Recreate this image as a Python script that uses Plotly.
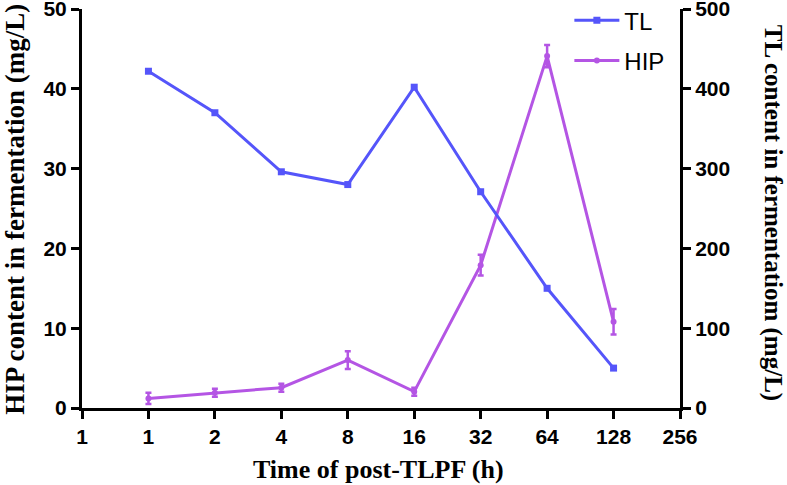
import plotly.graph_objects as go

# ---- data ----
tick_labels = ["1", "1", "2", "4", "8", "16", "32", "64", "128", "256"]
time_points = ["1", "2", "4", "8", "16", "32", "64", "128"]
hip_values = [1.2, 1.9, 2.55, 6.0, 2.05, 17.9, 44.1, 10.8]
hip_errors = [0.7, 0.5, 0.5, 1.1, 0.5, 1.3, 1.4, 1.6]
tl_values = [422, 370, 296, 280, 402, 271, 150, 50]

x_pos = list(range(1, len(time_points) + 1))
tick_pos = list(range(len(tick_labels)))

BLUE = "rgb(85,85,250)"
PURPLE = "rgb(180,85,228)"
SANS = "Liberation Sans, Arial, sans-serif"
SERIF = "Liberation Serif, Times New Roman, serif"

fig = go.Figure()
fig.add_trace(go.Scatter(
    x=x_pos, y=tl_values, name="TL", yaxis="y2", mode="lines+markers",
    line=dict(color=BLUE, width=3),
    marker=dict(symbol="square", size=7, color=BLUE),
    legendgroup="tl",
))
fig.add_trace(go.Scatter(
    x=x_pos, y=hip_values, name="HIP", mode="lines+markers",
    line=dict(color=PURPLE, width=3),
    marker=dict(symbol="circle", size=6, color=PURPLE),
    error_y=dict(type="data", array=hip_errors, color=PURPLE, thickness=2.5, width=3),
    legendgroup="hip",
))

axis_common = dict(
    showline=True, linecolor="black", linewidth=3,
    ticks="outside", ticklen=8, tickwidth=3, tickcolor="black",
    showgrid=False, zeroline=False, automargin=False,
    ticklabeloverflow="allow",
    tickfont=dict(family=SANS, size=21, color="black", weight="bold"),
)

fig.update_layout(
    width=787, height=485,
    margin=dict(l=82, r=107, t=9, b=77, autoexpand=False),
    paper_bgcolor="white", plot_bgcolor="white",
    xaxis=dict(range=[0, 9], tickvals=tick_pos, ticktext=tick_labels, **axis_common),
    yaxis=dict(range=[0, 50], tickvals=[0, 10, 20, 30, 40, 50], **axis_common),
    yaxis2=dict(range=[0, 500], tickvals=[0, 100, 200, 300, 400, 500],
                overlaying="y", side="right", **axis_common),
    legend=dict(x=0.815, y=1.027, xanchor="left", yanchor="top",
                font=dict(family=SANS, size=24, color="black"),
                bgcolor="rgba(0,0,0,0)", tracegroupgap=6, itemwidth=45),
    showlegend=True,
    annotations=[
        dict(text="HIP content in fermentation (mg/L)", xref="paper", yref="paper",
             x=-0.112, y=0.497, textangle=-90, showarrow=False,
             xanchor="center", yanchor="middle",
             font=dict(family=SERIF, size=27, color="black", weight="bold")),
        dict(text="TL content in fermentatiom (mg/L)", xref="paper", yref="paper",
             x=1.155, y=0.49, textangle=90, showarrow=False,
             xanchor="center", yanchor="middle",
             font=dict(family=SERIF, size=25, color="black", weight="bold")),
        dict(text="Time of post-TLPF (h)", xref="paper", yref="paper",
             x=0.496, y=-0.153, showarrow=False,
             xanchor="center", yanchor="middle",
             font=dict(family=SERIF, size=26, color="black", weight="bold")),
    ],
)

fig.write_html("out.html", config={"displayModeBar": False},
               post_script="document.body.style.margin='0';")
